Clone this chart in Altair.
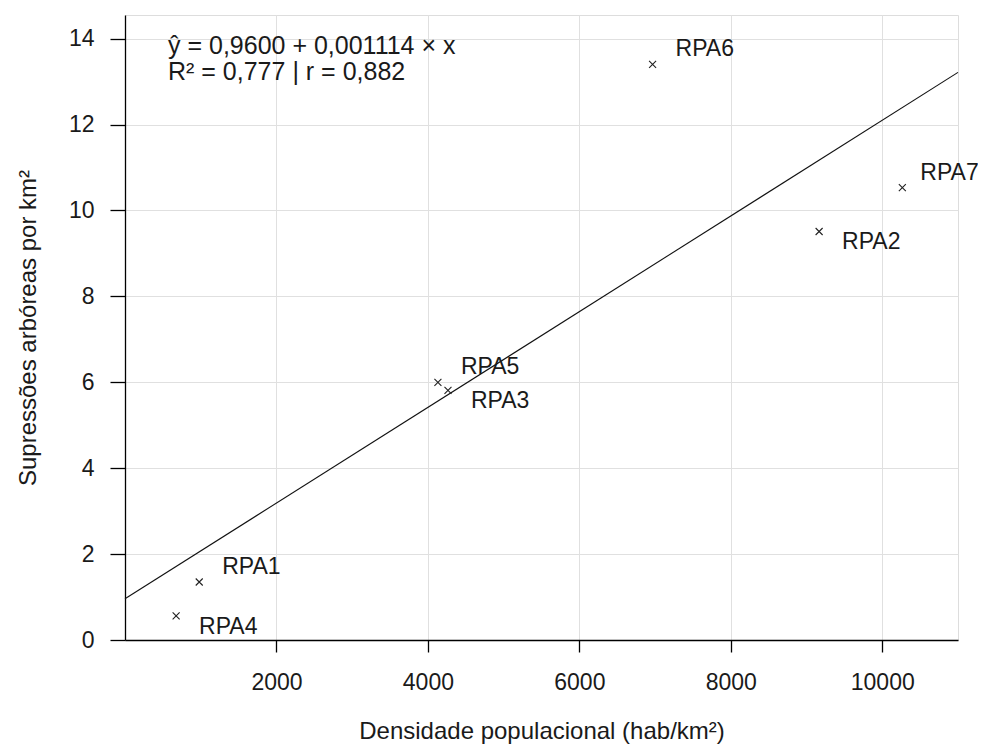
import altair as alt
import pandas as pd

# ---- data ----
rpa = ["RPA1", "RPA2", "RPA3", "RPA4", "RPA5", "RPA6", "RPA7"]
densidade = [980, 9166, 4265, 675, 4132, 6967, 10265]
supressoes = [1.35, 9.51, 5.81, 0.56, 6.00, 13.40, 10.53]

labels_above = ["RPA1", "RPA5", "RPA6"]
labels_above_edge = ["RPA7"]
labels_below = ["RPA2", "RPA3", "RPA4"]

intercept = 0.9600
slope = 0.001114
line_x = [0, 11000]

x_ticks = [2000, 4000, 6000, 8000, 10000]
y_ticks = [0, 2, 4, 6, 8, 10, 12, 14]

eq_line1 = "ŷ = 0,9600 + 0,001114 × x"
eq_line2 = "R² = 0,777 | r = 0,882"

x_title = "Densidade populacional (hab/km²)"
y_title = "Supressões arbóreas por km²"

FONT = "Liberation Sans"

df = pd.DataFrame({"rpa": rpa, "x": densidade, "y": supressoes})
df_line = pd.DataFrame({"x": line_x, "y": [intercept + slope * v for v in line_x]})

xscale = alt.Scale(domain=[0, 11000], nice=False, zero=False)
yscale = alt.Scale(domain=[0, 14.55], nice=False, zero=False)

xaxis = alt.Axis(
    title=x_title, values=x_ticks, format="d",
    grid=True, gridColor="#e0e0e0", gridWidth=1,
    domainColor="#000000", domainWidth=1.3,
    tickColor="#000000", tickSize=12, tickWidth=1.3,
    labelFont=FONT, labelFontSize=23, labelColor="#1a1a1a", labelPadding=19,
    titleFont=FONT, titleFontSize=24, titleFontWeight="normal", titleColor="#1a1a1a",
    titlePadding=25,
)
yaxis = alt.Axis(
    title=y_title, values=y_ticks, format="d",
    grid=True, gridColor="#e0e0e0", gridWidth=1,
    domainColor="#000000", domainWidth=1.3,
    tickColor="#000000", tickSize=15, tickWidth=1.3,
    labelFont=FONT, labelFontSize=23, labelColor="#1a1a1a", labelPadding=16,
    titleFont=FONT, titleFontSize=24, titleFontWeight="normal", titleColor="#1a1a1a",
    titlePadding=28,
)

base = alt.Chart(df)
enc = dict(x=alt.X("x:Q", scale=xscale), y=alt.Y("y:Q", scale=yscale))

line = alt.Chart(df_line).mark_line(color="#111111", strokeWidth=1.1).encode(
    x=alt.X("x:Q", scale=xscale, axis=xaxis),
    y=alt.Y("y:Q", scale=yscale, axis=yaxis),
)

points = base.mark_point(
    shape="M-1,-1L1,1M-1,1L1,-1", size=49, filled=False,
    color="#222222", strokeWidth=1.1, opacity=1,
).encode(**enc)


def label_layer(names, dx, dy):
    return base.transform_filter(
        alt.FieldOneOfPredicate(field="rpa", oneOf=names)
    ).mark_text(
        align="left", baseline="middle", dx=dx, dy=dy,
        font=FONT, fontSize=23, color="#1a1a1a",
    ).encode(text="rpa:N", **enc)


txt_above = label_layer(labels_above, 23, -15)
txt_edge = label_layer(labels_above_edge, 18, -15)
txt_below = label_layer(labels_below, 23, 11)

eq1 = alt.Chart(pd.DataFrame({"t": [eq_line1]})).mark_text(
    align="left", baseline="middle", font=FONT, fontSize=25, color="#1a1a1a",
).encode(x=alt.value(43), y=alt.value(31), text="t:N")

eq2 = alt.Chart(pd.DataFrame({"t": [eq_line2]})).mark_text(
    align="left", baseline="middle", font=FONT, fontSize=25, color="#1a1a1a",
).encode(x=alt.value(43), y=alt.value(57), text="t:N")

chart = alt.layer(line, points, txt_above, txt_edge, txt_below, eq1, eq2).properties(
    width=833, height=625,
    autosize=alt.AutoSizeParams(type="none"),
    padding={"left": 117, "top": 7, "right": 20, "bottom": 104},
).configure_view(stroke=None).configure(background="white")

chart.save("out.html", embed_options={"renderer": "svg", "actions": False})
